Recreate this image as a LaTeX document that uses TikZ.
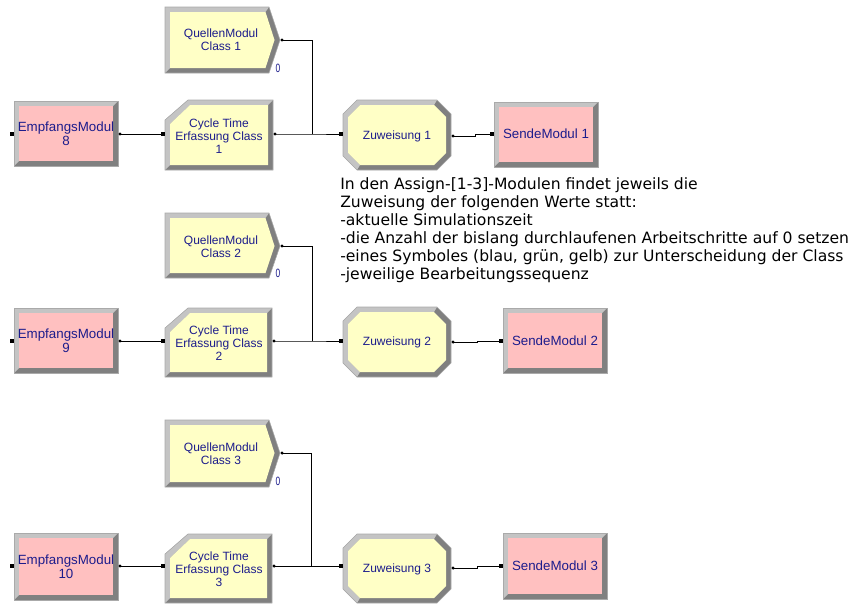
\documentclass[tikz,border=0pt]{standalone}
\usepackage{fontspec}
\setmainfont{Liberation Sans}
\newfontfamily\notefont{DejaVu Sans}

\definecolor{facey}{RGB}{255,255,198}
\definecolor{facep}{RGB}{255,192,192}
\definecolor{bevl}{RGB}{196,196,196}
\definecolor{bevd}{RGB}{128,128,128}
\definecolor{bevedge}{RGB}{170,170,170}
\definecolor{modtext}{RGB}{28,28,140}

% bevel width of every module frame
\newcommand\bevw{5}

% plain rectangle module: x1 y1 x2 y2 face
\newcommand\modrect[5]{%
  \fill[bevd] (#1,#2) rectangle (#3,#4);
  \fill[bevl] (#1,#4) -- (#1,#2) -- (#3,#2) -- ({#3-\bevw},{#2+\bevw})
     -- ({#1+\bevw},{#2+\bevw}) -- ({#1+\bevw},{#4-\bevw}) -- cycle;
  \fill[#5] ({#1+\bevw},{#2+\bevw}) rectangle ({#3-\bevw},{#4-\bevw});
  \draw[bevedge,line width=0.4pt] (#1,#2) rectangle (#3,#4);
}

% source module, pointed on the right: x1 y1 xs xt ym y2
\newcommand\modpent[6]{%
  \fill[bevd] (#1,#2) -- (#3,#2) -- (#4,#5) -- (#3,#6) -- (#1,#6) -- cycle;
  \fill[bevl] (#1,#6) -- (#1,#2) -- (#3,#2) -- ({#3-3.5},{#2+\bevw})
     -- ({#1+\bevw},{#2+\bevw}) -- ({#1+\bevw},{#6-\bevw}) -- cycle;
  \fill[facey] ({#1+\bevw},{#2+\bevw}) -- ({#3-3.5},{#2+\bevw}) -- ({#4-5.5},#5)
     -- ({#3-3.5},{#6-\bevw}) -- ({#1+\bevw},{#6-\bevw}) -- cycle;
  \draw[bevedge,line width=0.4pt] (#1,#2) -- (#3,#2) -- (#4,#5) -- (#3,#6) -- (#1,#6) -- cycle;
}

% assign module, octagonal: x1 y1 x2 y2
\newcommand\modoct[4]{%
  \def\oc{14}\def\ic{12}%
  \fill[bevd] ({#1+\oc},#2) -- ({#3-\oc},#2) -- (#3,{#2+\oc}) -- (#3,{#4-\oc})
     -- ({#3-\oc},#4) -- ({#1+\oc},#4) -- (#1,{#4-\oc}) -- (#1,{#2+\oc}) -- cycle;
  \fill[bevl] ({#1+\oc},#4) -- (#1,{#4-\oc}) -- (#1,{#2+\oc}) -- ({#1+\oc},#2)
     -- ({#3-\oc},#2) -- ({#3-\bevw-\ic},{#2+\bevw}) -- ({#1+\bevw+\ic},{#2+\bevw})
     -- ({#1+\bevw},{#2+\bevw+\ic}) -- ({#1+\bevw},{#4-\bevw-\ic})
     -- ({#1+\bevw+\ic},{#4-\bevw}) -- cycle;
  \fill[facey] ({#1+\bevw+\ic},{#2+\bevw}) -- ({#3-\bevw-\ic},{#2+\bevw})
     -- ({#3-\bevw},{#2+\bevw+\ic}) -- ({#3-\bevw},{#4-\bevw-\ic})
     -- ({#3-\bevw-\ic},{#4-\bevw}) -- ({#1+\bevw+\ic},{#4-\bevw})
     -- ({#1+\bevw},{#4-\bevw-\ic}) -- ({#1+\bevw},{#2+\bevw+\ic}) -- cycle;
  \draw[bevedge,line width=0.4pt] ({#1+\oc},#2) -- ({#3-\oc},#2) -- (#3,{#2+\oc}) -- (#3,{#4-\oc})
     -- ({#3-\oc},#4) -- ({#1+\oc},#4) -- (#1,{#4-\oc}) -- (#1,{#2+\oc}) -- cycle;
}

% record module, top left corner cut: x1 y1 x2 y2
\newcommand\modcham[4]{%
  \fill[bevd] (#1,{#2+20}) -- ({#1+23},#2) -- (#3,#2) -- (#3,#4) -- (#1,#4) -- cycle;
  \fill[bevl] (#1,#4) -- (#1,{#2+20}) -- ({#1+23},#2) -- (#3,#2)
     -- ({#3-\bevw},{#2+\bevw}) -- ({#1+25},{#2+\bevw}) -- ({#1+\bevw},{#2+24})
     -- ({#1+\bevw},{#4-\bevw}) -- cycle;
  \fill[facey] ({#1+\bevw},{#2+24}) -- ({#1+25},{#2+\bevw}) -- ({#3-\bevw},{#2+\bevw})
     -- ({#3-\bevw},{#4-\bevw}) -- ({#1+\bevw},{#4-\bevw}) -- cycle;
  \draw[bevedge,line width=0.4pt] (#1,{#2+20}) -- ({#1+23},#2) -- (#3,#2) -- (#3,#4) -- (#1,#4) -- cycle;
}

\begin{document}
\begin{tikzpicture}[x=0.75pt,y=-0.75pt,
  ylabel/.style={text=modtext,align=center,inner sep=0pt,
    font=\fontsize{9}{9.9}\selectfont},
  plabel/.style={text=modtext,align=center,inner sep=0pt,
    font=\fontsize{10}{10.6}\selectfont},
  countlabel/.style={text=modtext,inner sep=0pt,xscale=0.7,
    font=\fontsize{9}{9}\selectfont},
  inport/.style={rectangle,fill=black,minimum size=3.2pt,inner sep=0pt},
  outport/.style={circle,fill=black,minimum size=2.6pt,inner sep=0pt},
  conn/.style={draw=black,line width=0.75pt},
  note/.style={align=left,inner sep=0pt,anchor=north west,
    font=\notefont\fontsize{11.7}{13.5}\selectfont}]
\useasboundingbox (0,0) rectangle (855,604);

% ---------- module frames ----------
\modpent{165}{7}{269}{280}{40}{73}
\modrect{14}{101}{118}{166}{facep}
\modcham{165}{100}{273}{170}
\modoct{343}{100}{451}{170}
\modrect{494}{102}{598}{167}{facep}

\modpent{165}{213}{269}{280}{246}{278}
\modrect{14}{308}{118}{373}{facep}
\modcham{165}{308}{272}{377}
\modoct{343}{307}{451}{377}
\modrect{503}{308}{607}{373}{facep}

\modpent{165}{420}{269}{280}{453}{487}
\modrect{14}{533}{118}{600}{facep}
\modcham{165}{534}{272}{603}
\modoct{343}{534}{451}{603}
\modrect{503}{533}{607}{599}{facep}

% ---------- module labels ----------
\node[ylabel] (q1) at (221,40) {QuellenModul\\Class 1};
\node[countlabel] (q1n) at (278,68) {0};
\node[plabel] (e8) at (66,134) {EmpfangsModul\\8};
\node[ylabel] (c1) at (219,136) {Cycle Time\\Erfassung Class\\1};
\node[ylabel] (z1) at (397,136) {Zuweisung 1};
\node[plabel] (s1) at (546,134) {SendeModul 1};

\node[ylabel] (q2) at (221,247) {QuellenModul\\Class 2};
\node[countlabel] (q2n) at (278,273) {0};
\node[plabel] (e9) at (66,341) {EmpfangsModul\\9};
\node[ylabel] (c2) at (219,343) {Cycle Time\\Erfassung Class\\2};
\node[ylabel] (z2) at (397,342) {Zuweisung 2};
\node[plabel] (s2) at (555,341) {SendeModul 2};

\node[ylabel] (q3) at (221,454) {QuellenModul\\Class 3};
\node[countlabel] (q3n) at (278,481) {0};
\node[plabel] (e10) at (66,567) {EmpfangsModul\\10};
\node[ylabel] (c3) at (219,569) {Cycle Time\\Erfassung Class\\3};
\node[ylabel] (z3) at (397,569) {Zuweisung 3};
\node[plabel] (s3) at (555,566) {SendeModul 3};

% ---------- ports ----------
\coordinate (q1o) at (282,40);
\coordinate (e8i) at (12,134);  \coordinate (e8o) at (120,134);
\coordinate (c1i) at (163,134); \coordinate (c1o) at (275,134);
\coordinate (z1i) at (341,134); \coordinate (z1o) at (453,136);
\coordinate (s1i) at (492,134);
\coordinate (j1) at (312,134);

\coordinate (q2o) at (282,246);
\coordinate (e9i) at (12,341);  \coordinate (e9o) at (120,341);
\coordinate (c2i) at (163,341); \coordinate (c2o) at (274,341);
\coordinate (z2i) at (341,341); \coordinate (z2o) at (453,342);
\coordinate (s2i) at (501,341);
\coordinate (j2) at (312,341);

\coordinate (q3o) at (282,453);
\coordinate (e10i) at (12,566); \coordinate (e10o) at (120,566);
\coordinate (c3i) at (163,566); \coordinate (c3o) at (274,566);
\coordinate (z3i) at (341,566); \coordinate (z3o) at (453,568);
\coordinate (s3i) at (501,566);
\coordinate (j3) at (311,566);

% ---------- connectors ----------
\draw[conn] (e8o) -- (c1i);
\draw[conn] (c1o) -- (j1) -- (z1i);
\draw[conn] (q1o) -| (j1);
\draw[conn] (z1o) -- ++(22,0) |- (s1i);

\draw[conn] (e9o) -- (c2i);
\draw[conn] (c2o) -- (j2) -- (z2i);
\draw[conn] (q2o) -| (j2);
\draw[conn] (z2o) -- ++(24,0) |- (s2i);

\draw[conn] (e10o) -- (c3i);
\draw[conn] (c3o) -- (j3) -- (z3i);
\draw[conn] (q3o) -| (j3);
\draw[conn] (z3o) -- ++(24,0) |- (s3i);

% port markers on top of the lines
\foreach \p in {e8i,c1i,z1i,s1i,e9i,c2i,z2i,s2i,e10i,c3i,z3i,s3i}
  \node[inport] at (\p) {};
\foreach \p in {q1o,e8o,c1o,z1o,q2o,e9o,c2o,z2o,q3o,e10o,c3o,z3o}
  \node[outport] at (\p) {};

% ---------- note ----------
\node[note] (remark) at (340,177) {In den Assign-[1-3]-Modulen findet jeweils die\\
Zuweisung der folgenden Werte statt:\\
-aktuelle Simulationszeit\\
-die Anzahl der bislang durchlaufenen Arbeitschritte auf 0 setzen\\
-eines Symboles (blau, grün, gelb) zur Unterscheidung der Class\\
-jeweilige Bearbeitungssequenz};
\end{tikzpicture}
\end{document}
